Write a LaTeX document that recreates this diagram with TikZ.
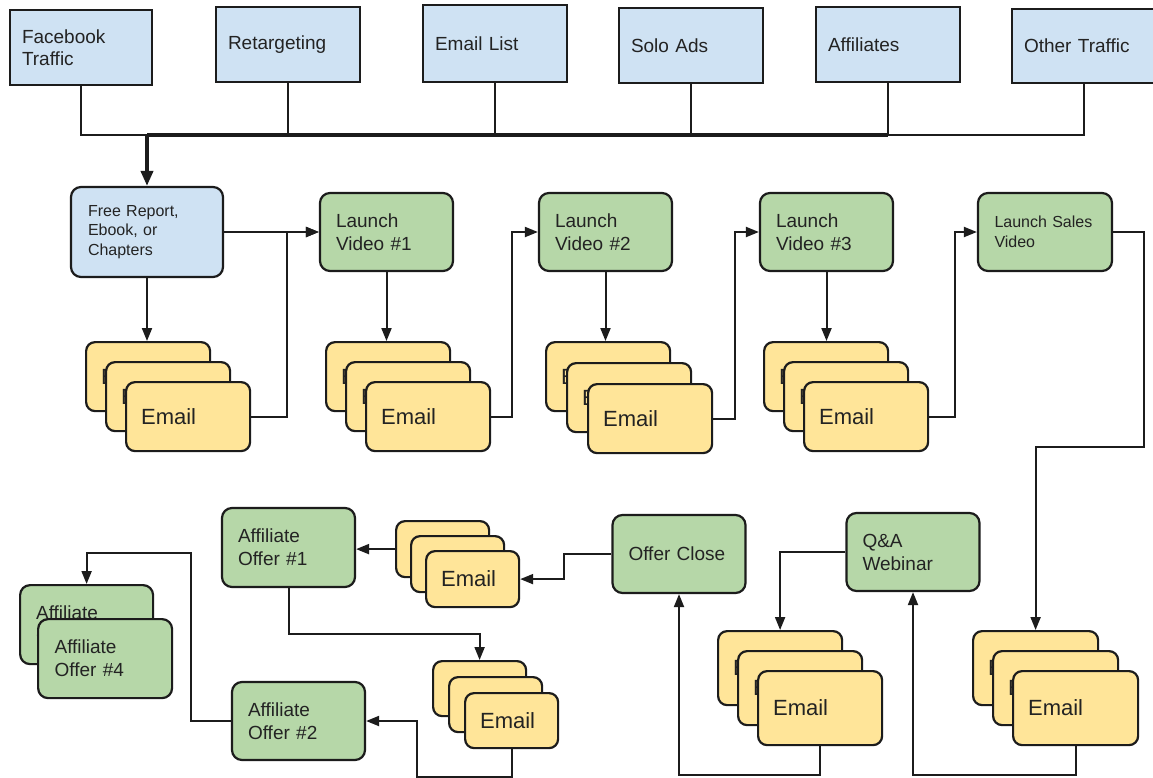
\documentclass[tikz,border=0pt]{standalone}
\usepackage{fontspec}
\setmainfont{Liberation Sans}
\usetikzlibrary{arrows.meta}
\definecolor{srcBlue}{RGB}{207,226,243}
\definecolor{stepGreen}{RGB}{182,215,168}
\definecolor{mailYellow}{RGB}{255,229,153}
\definecolor{lineDark}{RGB}{28,28,28}
\definecolor{textDark}{RGB}{35,35,35}

\begin{document}
\begin{tikzpicture}[x=1pt, y=-1pt,
    source/.style={draw=lineDark, fill=srcBlue, line width=2.2pt, minimum width=144, minimum height=75, inner xsep=12pt, text width=120pt, align=left, text=textDark, font=\fontsize{19}{22}\selectfont},
    stepbox/.style={draw=lineDark, fill=stepGreen, rounded corners=10pt, line width=2.2pt, minimum width=133, minimum height=78, inner xsep=16pt, text width=101pt, align=left, text=textDark, font=\fontsize{19}{23}\selectfont},
    mail/.style={draw=lineDark, fill=mailYellow, rounded corners=9pt, line width=2.2pt, inner xsep=15pt, align=left, text=textDark, font=\fontsize{22}{26}\selectfont, anchor=north west},
    link/.style={draw=lineDark, line width=2pt},
    flow/.style={link, -{Triangle[length=13pt,width=10pt]}}]
    \path[use as bounding box, fill=white] (0,0) rectangle (1153,777);

    % Traffic sources
    \node[source, minimum width=142, text width=118pt] (fb) at (81,47.5) {Facebook\\Traffic};
    \node[source] (rt) at (288,44.5) {Retargeting};
    \node[source, minimum height=77] (el) at (495,43.5) {Email List};
    \node[source] (sa) at (691,45.5) {Solo Ads};
    \node[source] (af) at (888,44.5) {Affiliates};
    \node[source, minimum height=74] (ot) at (1084,46) {Other Traffic};
    \coordinate (bus) at (147,135);

    % Launch sequence
    \node[stepbox, fill=srcBlue, minimum width=152, minimum height=90, inner xsep=17pt, text width=118pt, font=\fontsize{16}{19.5}\selectfont] (free) at (147,232) {Free Report,\\Ebook, or\\Chapters};
    \node[stepbox] (lv1) at (386.5,232) {Launch\\Video \#1};
    \node[stepbox] (lv2) at (605.5,232) {Launch\\Video \#2};
    \node[stepbox] (lv3) at (826.5,232) {Launch\\Video \#3};
    \node[stepbox, minimum width=134, font=\fontsize{16}{20}\selectfont] (lsv) at (1045,232) {Launch Sales\\Video};

    % Offer and follow-ups
    \node[stepbox, minimum width=132] (qa) at (913,552) {Q\&A\\Webinar};
    \node[stepbox, minimum width=132] (oc) at (679,554) {Offer Close};
    \node[stepbox, minimum height=79] (ao1) at (288.5,547.5) {Affiliate\\Offer \#1};
    \node[stepbox] (ao2) at (298.5,721) {Affiliate\\Offer \#2};
    \node[stepbox, minimum width=132, minimum height=79, anchor=north west] (ao3) at (19,584) {Affiliate\\Offer};
    \node[stepbox, minimum width=134, minimum height=79, anchor=north west] (ao4) at (37,618) {Affiliate\\Offer \#4};

    % Email stacks
    \foreach \n/\x/\y/\d/\w/\h/\tw in {m1/85/341/20/124/69/94, m2/325/341/20/124/69/94, m3/545/341/21/124/69/94, m4/763/341/20/124/69/94, m5/717/630/20/124/74/94, m6/972/630/20/125/74/95, m7/395/520/15/93/56/63, m8/432/660/16/93/55/63} {
        \node[mail, minimum width=\w, minimum height=\h, text width=\tw pt] (\n-back) at (\x,\y) {Email};
        \node[mail, minimum width=\w, minimum height=\h, text width=\tw pt] (\n-mid) at (\x+\d,\y+\d) {Email};
        \node[mail, minimum width=\w, minimum height=\h, text width=\tw pt] (\n-front) at (\x+2*\d,\y+2*\d) {Email};
    }

    % Bus from the sources
    \draw[link] (fb.south) |- (bus);
    \foreach \s in {rt,el,sa}
        \draw[link] (\s.south) -- (\s.south |- bus);
    \draw[link] (af.south) -- (af.south |- bus) -| (ot.south);
    \draw[link, line width=3.6pt] (bus) -- (bus -| af.south);
    \draw[link, line width=3.6pt, -{Triangle[length=15pt,width=12pt]}] (bus) -- (free.north);

    % Arrows, top row
    \draw[flow] (free.south) -- (free.south |- m1-back.north);
    \draw[flow] (free.east) -- (lv1.west);
    \draw[flow] (m1-front.east) -- ++(36,0) |- (lv1.west);
    \draw[flow] (lv1.south) -- (lv1.south |- m2-back.north);
    \draw[flow] (m2-front.east) -- ++(21,0) |- (lv2.west);
    \draw[flow] (lv2.south) -- (lv2.south |- m3-back.north);
    \draw[flow] (m3-front.east) -- ++(22,0) |- (lv3.west);
    \draw[flow] (lv3.south) -- (lv3.south |- m4-back.north);
    \draw[flow] (m4-front.east) -- ++(26,0) |- (lsv.west);
    \draw[flow] (lsv.east) -- ++(31,0) -- ++(0,215) -| (m6-back.north);

    % Arrows, bottom row
    \draw[flow] (m6-front.south) -- ++(0,29) -| (qa.south);
    \draw[flow] (qa.west) -| (m5-back.north);
    \draw[flow] (m5-front.south) -- ++(0,29) -| (oc.south);
    \draw[flow] (oc.west) -- ++(-47,0) |- (m7-front.east);
    \draw[flow] (m7-back.west) -- (m7-back.west -| ao1.east);
    \draw[flow] (ao1.south) -- ++(0,46) -| (m8-back.north);
    \draw[flow] (m8-front.south) -- ++(0,28) -- ++(-95,0) |- (ao2.east);
    \draw[flow] (ao2.west) -- ++(-40,0) -- ++(0,-168) -| (ao3.north);
\end{tikzpicture}
\end{document}
